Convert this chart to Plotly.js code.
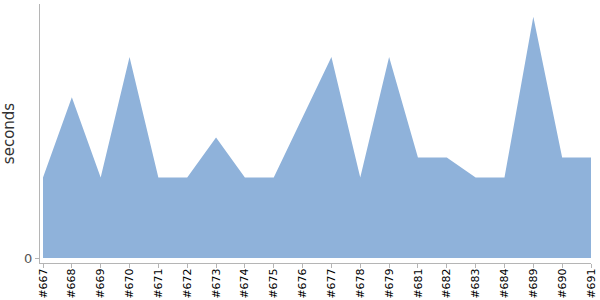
<!DOCTYPE html>
<html>
<head>
<meta charset="utf-8">
<script src="https://cdn.plot.ly/plotly-3.0.1.min.js"></script>
<style>html,body{margin:0;padding:0;background:#fff;}#chart{width:600px;height:300px;}</style>
</head>
<body>
<div id="chart"></div>
<script>
const builds = ["#667","#668","#669","#670","#671","#672","#673","#674","#675","#676","#677","#678","#679","#681","#682","#683","#684","#689","#690","#691"];
const seconds = [4,8,4,10,4,4,6,4,4,7,10,4,10,5,5,4,4,12,5,5];

const trace = {
  x: builds,
  y: seconds,
  type: 'scatter',
  mode: 'lines',
  fill: 'tozeroy',
  fillcolor: 'rgb(143,178,218)',
  line: {width: 0, color: 'rgb(143,178,218)'},
  hoverinfo: 'x+y'
};

const layout = {
  width: 600, height: 300,
  margin: {l: 40, r: 9, t: 4, b: 37, pad: 0},
  paper_bgcolor: '#fff', plot_bgcolor: '#fff',
  showlegend: false,
  font: {family: 'DejaVu Sans, sans-serif'},
  xaxis: {
    type: 'category',
    range: [-0.104, 19],
    showgrid: false, zeroline: false,
    showline: true, linecolor: '#b5b5b5', linewidth: 1,
    ticks: 'outside', ticklen: 4, tickcolor: '#b5b5b5',
    tickangle: -90,
    ticklabelstandoff: -4,
    tickfont: {size: 11, color: '#000', family: 'DejaVu Sans, sans-serif'}
  },
  yaxis: {
    range: [-0.249, 12.64],
    tickvals: [0], ticktext: ['0'],
    showgrid: false, zeroline: false,
    showline: true, linecolor: '#b5b5b5', linewidth: 1,
    ticks: 'outside', ticklen: 4, tickcolor: '#b5b5b5',
    tickfont: {size: 13, color: '#555', family: 'DejaVu Sans, sans-serif'},
    title: {text: 'seconds', standoff: 10, font: {size: 15, color: '#333', family: 'DejaVu Sans, sans-serif'}}
  }
};

Plotly.newPlot('chart', [trace], layout, {displayModeBar: false, staticPlot: true});
</script>
</body>
</html>
